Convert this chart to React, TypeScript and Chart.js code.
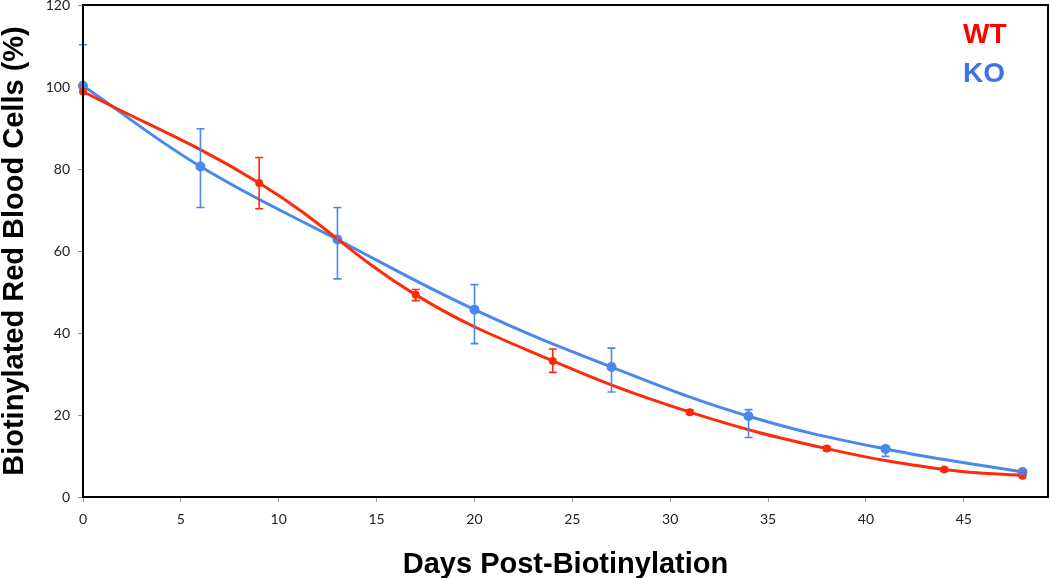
import React, { useEffect, useRef } from "react";
import { Chart, registerables } from "chart.js";

Chart.register(...registerables);

const wtDays = [0, 9, 17, 24, 31, 38, 44, 48];
const wtValues = [98.9, 76.6, 49.3, 33.2, 20.7, 11.8, 6.7, 5.2];
const wtErrUp = [0, 6.2, 1.3, 2.9, 0.5, 0.5, 0.4, 0];
const wtErrDown = [0, 6.3, 1.4, 2.8, 0.5, 0.5, 0.4, 0];

const koDays = [0, 6, 13, 20, 27, 34, 41, 48];
const koValues = [100.3, 80.6, 62.8, 45.7, 31.7, 19.7, 11.7, 6.1];
const koErrUp = [10, 9.2, 7.8, 6.1, 4.6, 1.6, 0.8, 0.5];
const koErrDown = [0, 10, 9.6, 8.3, 6.1, 5.2, 1.8, 0.5];

const legendLabels = ["WT", "KO"];
const xTitle = "Days Post-Biotinylation";
const yTitle = "Biotinylated Red Blood Cells (%)";

const RED = "#ff2a0a";
const BLUE = "#4a88ec";

const errorBarPlugin = {
  id: "errorBars",
  afterDatasetsDraw(chart: any) {
    const ctx = chart.ctx;
    const y = chart.scales.y;
    chart.data.datasets.forEach((ds: any, i: number) => {
      const meta = chart.getDatasetMeta(i);
      ctx.save();
      ctx.strokeStyle = ds.borderColor;
      ctx.lineWidth = 1.6;
      meta.data.forEach((pt: any, j: number) => {
        const v = ds.data[j].y;
        const up = ds.errUp[j];
        const dn = ds.errDown[j];
        const px = pt.x;
        const cap = 4;
        if (up > 0) {
          const yt = y.getPixelForValue(v + up);
          ctx.beginPath();
          ctx.moveTo(px, pt.y);
          ctx.lineTo(px, yt);
          ctx.moveTo(px - cap, yt);
          ctx.lineTo(px + cap, yt);
          ctx.stroke();
        }
        if (dn > 0) {
          const yb = y.getPixelForValue(v - dn);
          ctx.beginPath();
          ctx.moveTo(px, pt.y);
          ctx.lineTo(px, yb);
          ctx.moveTo(px - cap, yb);
          ctx.lineTo(px + cap, yb);
          ctx.stroke();
        }
      });
      ctx.restore();
    });
  },
};

const framePlugin = {
  id: "frame",
  afterDraw(chart: any) {
    const { ctx, chartArea } = chart;
    ctx.save();
    ctx.strokeStyle = "#000";
    ctx.lineWidth = 2;
    ctx.strokeRect(chartArea.left, chartArea.top, chartArea.right - chartArea.left, chartArea.bottom - chartArea.top);
    ctx.font = "bold 28px 'Liberation Sans', Arial, sans-serif";
    ctx.textBaseline = "alphabetic";
    ctx.textAlign = "left";
    ctx.fillStyle = "#ff0000";
    ctx.fillText(legendLabels[0], 963, 43);
    ctx.fillStyle = "#3f72ea";
    ctx.fillText(legendLabels[1], 963, 82);
    ctx.restore();
  },
};

export default function App() {
  const ref = useRef<HTMLCanvasElement>(null);
  useEffect(() => {
    document.body.style.margin = "0";
    const chart = new Chart(ref.current as HTMLCanvasElement, {
      type: "scatter",
      data: {
        datasets: [
          {
            label: legendLabels[0],
            data: wtDays.map((d, i) => ({ x: d, y: wtValues[i] })),
            errUp: wtErrUp,
            errDown: wtErrDown,
            borderColor: RED,
            backgroundColor: RED,
            showLine: true,
            tension: 0.4,
            borderWidth: 3,
            pointRadius: 2.5,
            pointStyle: "circle",
            clip: false,
          } as any,
          {
            label: legendLabels[1],
            data: koDays.map((d, i) => ({ x: d, y: koValues[i] })),
            errUp: koErrUp,
            errDown: koErrDown,
            borderColor: BLUE,
            backgroundColor: BLUE,
            showLine: true,
            tension: 0.4,
            borderWidth: 3,
            pointRadius: 3.5,
            pointStyle: "circle",
            clip: false,
          } as any,
        ],
      },
      options: {
        animation: false,
        responsive: true,
        maintainAspectRatio: false,
        layout: { autoPadding: false, padding: { top: 5, right: 2, left: 0, bottom: 0 } },
        plugins: { legend: { display: false }, tooltip: { enabled: false } },
        scales: {
          x: {
            type: "linear",
            min: 0,
            max: 49.3,
            ticks: {
              stepSize: 5,
              includeBounds: false,
              padding: 9,
              color: "#222",
              font: { family: "Lato, 'Open Sans', sans-serif", size: 14 },
            },
            grid: { drawOnChartArea: false, drawTicks: true, tickLength: 5, color: "#999" },
            border: { color: "#000", width: 2 },
            title: {
              display: true,
              text: xTitle,
              color: "#000",
              font: { family: "'Liberation Sans', Arial, sans-serif", size: 29, weight: "bold", lineHeight: 1 },
              padding: { top: 0, bottom: -1 },
            },
            afterFit(scale: any) {
              scale.height = 81;
              scale.paddingLeft = 0;
              scale.paddingRight = 0;
            },
          },
          y: {
            type: "linear",
            min: 0,
            max: 120,
            ticks: {
              stepSize: 20,
              padding: 8,
              color: "#222",
              font: { family: "Lato, 'Open Sans', sans-serif", size: 14 },
            },
            grid: { drawOnChartArea: false, drawTicks: true, tickLength: 5, color: "#999" },
            border: { color: "#000", width: 2 },
            title: {
              display: true,
              text: yTitle,
              color: "#000",
              font: { family: "'Liberation Sans', Arial, sans-serif", size: 29, weight: "bold", lineHeight: 1 },
              padding: { top: 0, bottom: 0 },
            },
            afterFit(scale: any) {
              scale.width = 83;
              scale.paddingTop = 0;
              scale.paddingBottom = 0;
            },
          },
        },
      } as any,
      plugins: [errorBarPlugin, framePlugin],
    });
    return () => chart.destroy();
  }, []);
  return (
    <div style={{ position: "absolute", left: 0, top: 0, width: 1050, height: 578 }}>
      <canvas ref={ref} />
    </div>
  );
}
